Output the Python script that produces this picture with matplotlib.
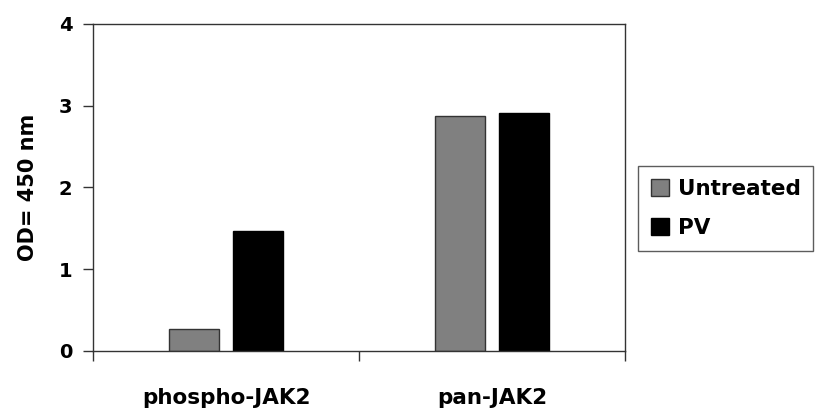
import numpy as np
import matplotlib
matplotlib.use('Agg')
import matplotlib.pyplot as plt

categories = ['phospho-JAK2', 'pan-JAK2']
untreated = [0.27, 2.87]
pv = [1.47, 2.91]
series_names = ['Untreated', 'PV']
yticks = [0, 1, 2, 3, 4]

plt.rcParams['font.family'] = ['DejaVu Sans']
plt.rcParams['font.weight'] = 'bold'

fig = plt.figure(figsize=(8.27, 4.2), dpi=100)
ax = fig.add_axes([0.1125, 0.1643, 0.6432, 0.7787])

x = np.arange(len(categories))
width = 0.19
gap = 0.05
ax.bar(x - (width + gap) / 2, untreated, width, color='#808080',
       edgecolor='#333333', linewidth=1, label=series_names[0])
ax.bar(x + (width + gap) / 2, pv, width, color='black',
       edgecolor='black', linewidth=1, label=series_names[1])

ax.set_xlim(-0.5, 1.5)
ax.set_ylim(0, 4)
ax.set_yticks(yticks)
ax.set_yticklabels([str(t) for t in yticks], fontsize=14, fontweight='bold')
ax.set_xticks(x)
ax.set_xticklabels(categories, fontsize=15.5, fontweight='bold')
ax.tick_params(axis='x', length=0, pad=27)
ax.tick_params(axis='y', length=7, width=1, color='#333333', pad=8)
# category boundary ticks
ax.set_xticks([-0.5, 0.5, 1.5], minor=True)
ax.tick_params(axis='x', which='minor', length=7, width=1, color='#333333')

for s in ax.spines.values():
    s.set_color('#333333')
    s.set_linewidth(1)

ax.set_ylabel('OD= 450 nm', fontsize=15, fontweight='bold', labelpad=15)

leg = ax.legend(loc='center left', bbox_to_anchor=(1.024, 0.436), frameon=True,
                fancybox=False, edgecolor='#333333', fontsize=15.5,
                handlelength=0.85, handleheight=0.85, handletextpad=0.4,
                borderpad=0.6, labelspacing=0.85, borderaxespad=0)
leg.get_frame().set_linewidth(1)

fig.savefig('out.png', dpi=100)
